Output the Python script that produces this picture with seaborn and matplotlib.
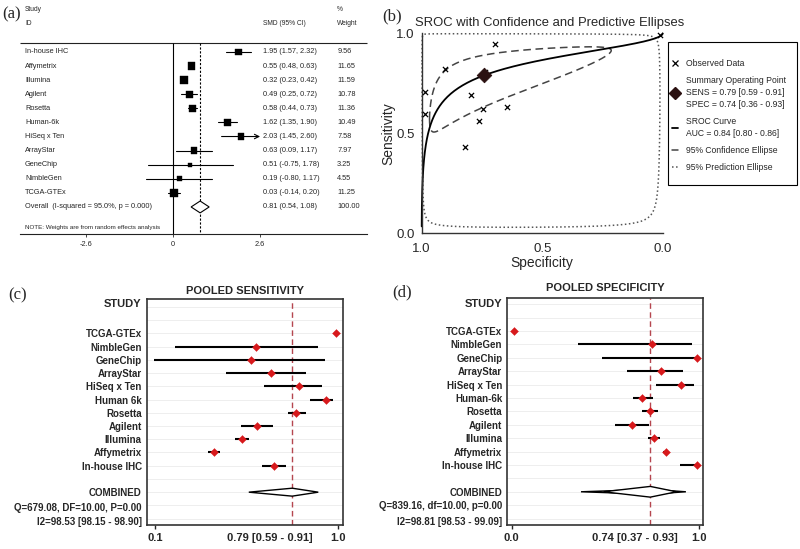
import numpy as np
import pandas as pd
import seaborn as sns
import matplotlib.pyplot as plt
from matplotlib.lines import Line2D
from matplotlib.patches import Polygon, Rectangle

sns.set_style('white')
plt.rcParams['font.family'] = ['Liberation Sans', 'DejaVu Sans']

# ---- data ----
# (a) SMD forest plot
a_names = ['In-house IHC', 'Affymetrix', 'Illumina', 'Agilent', 'Rosetta', 'Human-6k',
           'HiSeq x Ten', 'ArrayStar', 'GeneChip', 'NimbleGen', 'TCGA-GTEx']
a_smd = [1.95, 0.55, 0.32, 0.49, 0.58, 1.62, 2.03, 0.63, 0.51, 0.19, 0.03]
a_lo = [1.57, 0.48, 0.23, 0.25, 0.44, 1.35, 1.45, 0.09, -0.75, -0.80, -0.14]
a_hi = [2.32, 0.63, 0.42, 0.72, 0.73, 1.90, 2.60, 1.17, 1.78, 1.17, 0.20]
a_weight = [9.56, 11.65, 11.59, 10.78, 11.36, 10.49, 7.58, 7.97, 3.25, 4.55, 11.25]
a_overall = [0.81, 0.54, 1.08]
a_ticks = [-2.6, 0, 2.6]

# (c)/(d) per-study sensitivity and specificity
c_names = ['TCGA-GTEx', 'NimbleGen', 'GeneChip', 'ArrayStar', 'HiSeq x Ten', 'Human 6k',
           'Rosetta', 'Agilent', 'Illumina', 'Affymetrix', 'In-house IHC']
d_names = ['TCGA-GTEx', 'NimbleGen', 'GeneChip', 'ArrayStar', 'HiSeq x Ten', 'Human-6k',
           'Rosetta', 'Agilent', 'Illumina', 'Affymetrix', 'In-house IHC']
sens = [0.99, 0.623, 0.598, 0.69, 0.822, 0.944, 0.807, 0.629, 0.559, 0.43, 0.706]
sens_lo = [0.982, 0.249, 0.152, 0.483, 0.661, 0.872, 0.769, 0.553, 0.526, 0.403, 0.649]
sens_hi = [0.997, 0.91, 0.941, 0.852, 0.929, 0.979, 0.852, 0.702, 0.592, 0.457, 0.76]
spec = [0.012, 0.747, 0.988, 0.797, 0.904, 0.697, 0.738, 0.644, 0.761, 0.822, 0.988]
spec_lo = [0.003, 0.356, 0.48, 0.614, 0.769, 0.649, 0.697, 0.551, 0.729, 0.81, 0.898]
spec_hi = [0.03, 0.961, 0.995, 0.916, 0.973, 0.756, 0.78, 0.733, 0.79, 0.833, 0.995]
pooled_sens = [0.79, 0.59, 0.91]
pooled_spec = [0.74, 0.37, 0.93]

# (b) SROC model (logit scale)
sroc_alpha, sroc_beta = 1.87, 0.52
conf_ell = dict(sx=2.35, sy=1.3, rho=-0.8)
pred_ell = dict(sx=5.5, sy=4.8, rho=0.1)

W, H = 800, 549


def box(l, t, r, b):
    return [l / W, 1 - b / H, (r - l) / W, (b - t) / H]


def logit(p):
    return np.log(p / (1 - p))


def expit(z):
    return 1 / (1 + np.exp(-z))


fig = plt.figure(figsize=(8, 5.49), dpi=100)

# ================= (a) =================
ax = fig.add_axes(box(0, 0, 380, 255))
unit = 33.5
ax.set_xlim(-173 / unit, 207 / unit)
ax.set_ylim(14.41, -3.69)
rows = np.arange(len(a_names))
x_name, x_ci, x_w = -4.42, 2.69, 4.90
x_left, x_right = -4.57, 5.79
y_top, y_bot = -0.66, 12.94
clip = a_ticks[-1]

for r, lo, hi in zip(rows, a_lo, a_hi):
    if hi >= clip:
        ax.annotate('', xy=(clip, r), xytext=(lo, r),
                    arrowprops=dict(arrowstyle='->', lw=0.8, color='k',
                                    shrinkA=0, shrinkB=0, mutation_scale=8))
    else:
        ax.plot([lo, hi], [r, r], color='k', lw=0.8)

df_a = pd.DataFrame({'smd': a_smd, 'row': rows, 'weight': a_weight})
wmin, wmax = min(a_weight), max(a_weight)
sns.scatterplot(data=df_a, x='smd', y='row', size='weight', sizes=(2.6 * wmin, 2.6 * wmax),
                size_norm=(wmin, wmax), marker='s', color='black', edgecolor='black',
                legend=False, ax=ax, zorder=3)

ov, ov_lo, ov_hi = a_overall
r_ov = len(a_names)
ax.add_patch(Polygon([(ov_lo, r_ov), (ov, r_ov - 0.42), (ov_hi, r_ov), (ov, r_ov + 0.42)],
                     closed=True, facecolor='white', edgecolor='black', lw=0.8, zorder=3))

ax.hlines(y_top, x_left, x_right, color='#222222', lw=0.8)
ax.vlines(0, y_top, y_bot, color='black', lw=0.8)
ax.vlines(ov, y_top, y_bot, color='black', lw=0.8, linestyles=(0, (2, 1.5)))

fs = 5.3
for r, n, m, lo, hi, w in zip(rows, a_names, a_smd, a_lo, a_hi, a_weight):
    ax.text(x_name, r, n, fontsize=fs, va='center')
    ax.text(x_ci, r, f'{m:.2f} ({lo:.2f}, {hi:.2f})', fontsize=fs, va='center')
    ax.text(x_w, r, f'{w:.2f}', fontsize=fs, va='center')
ax.text(x_name, r_ov, 'Overall  (I-squared = 95.0%, p = 0.000)', fontsize=fs, va='center')
ax.text(x_ci, r_ov, f'{ov:.2f} ({ov_lo:.2f}, {ov_hi:.2f})', fontsize=fs, va='center')
ax.text(x_w, r_ov, '100.00', fontsize=fs, va='center')
ax.text(x_name, 12.47, 'NOTE: Weights are from random effects analysis', fontsize=4.5, va='center')

hs = 4.8
ax.text(x_name, -3, 'Study', fontsize=hs, va='center')
ax.text(x_name, -2, 'ID', fontsize=hs, va='center')
ax.text(x_ci, -2, 'SMD (95% CI)', fontsize=hs, va='center')
ax.text(x_w, -3, '%', fontsize=hs, va='center')
ax.text(x_w, -2, 'Weight', fontsize=hs, va='center')

for s in ['top', 'right', 'left']:
    ax.spines[s].set_visible(False)
ax.spines['bottom'].set_position(('data', y_bot))
ax.spines['bottom'].set_bounds(x_left, x_right)
ax.spines['bottom'].set_linewidth(0.8)
ax.spines['bottom'].set_color('#222222')
ax.set_xticks(a_ticks, ['-2.6', '0', '2.6'])
ax.set_yticks([])
ax.tick_params(axis='x', bottom=True, length=2, width=0.6, pad=3, labelsize=5.3)
ax.set_xlabel('')
ax.set_ylabel('')

# ================= (b) =================
axb = fig.add_axes(box(421.7, 33.3, 662.7, 233.3))
axb.set_xlim(1, 0)
axb.set_ylim(0, 1)

t = np.linspace(-10, 10, 600)
df_sroc = pd.DataFrame({'spec': 1 - expit(t), 'sens': expit(sroc_alpha + sroc_beta * t)})


def ellipse(sx, sy, rho):
    th = np.linspace(0, 2 * np.pi, 800)
    x = logit(pooled_spec[0]) + sx * np.cos(th)
    y = logit(pooled_sens[0]) + sy * (rho * np.cos(th) + np.sqrt(1 - rho ** 2) * np.sin(th))
    return pd.DataFrame({'spec': expit(x), 'sens': expit(y)})


df_conf = ellipse(**conf_ell)
df_pred = ellipse(**pred_ell)
sns.lineplot(data=df_pred, x='spec', y='sens', sort=False, estimator=None, ax=axb,
             color='#555555', lw=1.1, ls=':', clip_on=False)
sns.lineplot(data=df_conf, x='spec', y='sens', sort=False, estimator=None, ax=axb,
             color='#444444', lw=1.1, dashes=(5, 3), clip_on=False)
sns.lineplot(data=df_sroc, x='spec', y='sens', sort=False, estimator=None, ax=axb,
             color='black', lw=1.3, clip_on=False)
sns.scatterplot(x=spec, y=sens, marker='x', color='black', s=14, linewidth=0.9, ax=axb,
                zorder=4, clip_on=False)
sns.scatterplot(x=[pooled_spec[0]], y=[pooled_sens[0]], marker='D', color='#2b1111', s=55,
                edgecolor='#2b1111', ax=axb, zorder=5)

sns.despine(ax=axb)
for s in ['left', 'bottom']:
    axb.spines[s].set_color('#333333')
    axb.spines[s].set_linewidth(1.0)
axb.set_xticks([1, 0.5, 0], ['1.0', '0.5', '0.0'])
axb.set_yticks([0, 0.5, 1], ['0.0', '0.5', '1.0'])
axb.tick_params(length=3, width=0.9, color='#333333', labelsize=9.5)
axb.tick_params(axis='x', pad=4)
axb.tick_params(axis='y', pad=2)
axb.set_xlabel('Specificity', fontsize=10, labelpad=0.5)
axb.set_ylabel('Sensitivity', fontsize=10, labelpad=1)
fig.text(549.5 / W, 1 - 23 / H, 'SROC with Confidence and Predictive Ellipses',
         fontsize=9.4, ha='center', va='center')

fig.patches.append(Rectangle((668 / W, 1 - 185 / H), 129 / W, 143 / H, transform=fig.transFigure,
                             facecolor='white', edgecolor='black', lw=0.8))
handles = [Line2D([], [], marker='x', ls='none', color='black', ms=4, mew=0.9),
           Line2D([], [], marker='D', ls='none', color='#2b1111', ms=6),
           Line2D([], [], color='black', lw=1.3),
           Line2D([], [], color='#444444', lw=1.1, ls='-'),
           Line2D([], [], color='#555555', lw=1.1, ls=':')]
labels = ['Observed Data',
          'Summary Operating Point\nSENS = 0.79 [0.59 - 0.91]\nSPEC = 0.74 [0.36 - 0.93]',
          'SROC Curve\nAUC = 0.84 [0.80 - 0.86]',
          '95% Confidence Ellipse', '95% Prediction Ellipse']
leg = fig.legend(handles, labels, loc='upper left', bbox_to_anchor=(666 / W, 1 - 53 / H),
                 frameon=False, fontsize=6.2, handlelength=0.7, handletextpad=0.9,
                 labelspacing=0.95, borderpad=0.2)
for tx in leg.get_texts():
    tx.set_linespacing(1.4)


# ================= (c) and (d) =================
def pooled_panel(rect, names, est, lo, hi, pooled, title, qtxt, i2txt, xlim, ticks, ticklabels,
                 ylim, study_row, stat_rows, diamonds, title_pad):
    axp = fig.add_axes(box(*rect))
    axp.set_xlim(*xlim)
    axp.set_ylim(*ylim)
    r = np.arange(len(names))
    axp.hlines(np.arange(-2, 15), *xlim, color='#eeeeee', lw=0.7, zorder=0)
    axp.axvline(pooled[0], color='#b5464f', ls=(0, (4, 2.5)), lw=1.0, zorder=1)
    axp.hlines(r, lo, hi, color='black', lw=1.5, zorder=2)
    sns.scatterplot(x=est, y=r, marker='D', color='#d7191c', edgecolor='#d7191c', s=16,
                    ax=axp, zorder=3)
    for dlo, dhi, half in diamonds:
        axp.add_patch(Polygon([(dlo, 12), (pooled[0], 12 - half), (dhi, 12), (pooled[0], 12 + half)],
                              closed=True, facecolor='white', edgecolor='black', lw=1.0, zorder=3))
    yt = list(r) + [12, stat_rows[0], stat_rows[1], study_row]
    yl = list(names) + ['COMBINED', qtxt, i2txt, 'STUDY']
    axp.set_yticks(yt, yl)
    for lab in axp.get_yticklabels():
        lab.set_fontweight('bold')
        lab.set_fontsize(7)
    axp.get_yticklabels()[-1].set_fontsize(8)
    axp.tick_params(axis='y', length=0, pad=3.6)
    axp.set_xticks(ticks, ticklabels)
    for lab in axp.get_xticklabels():
        lab.set_fontweight('bold')
    axp.tick_params(axis='x', bottom=True, length=3, width=1, pad=3, labelsize=8)
    axp.xaxis.get_major_ticks()[1].tick1line.set_visible(False)
    for s in axp.spines.values():
        s.set_visible(True)
        s.set_color('#333333')
        s.set_linewidth(1.2)
    axp.set_title(title, fontsize=8, fontweight='bold', pad=title_pad)
    return axp


pooled_panel((146.7, 299.3, 343.3, 525), c_names, sens, sens_lo, sens_hi, pooled_sens,
             'POOLED SENSITIVITY', 'Q=679.08, DF=10.00, P=0.00', 'I2=98.53 [98.15 - 98.90]',
             (0.1195, 1.0254), [0.157, 0.687, 1.0], ['0.1', '0.79 [0.59 - 0.91]', '1.0'],
             (14.48, -2.57), -2.31, (13.1, 14.15), [(0.59, 0.91, 0.3)], 4)
pooled_panel((507.3, 298.3, 703.3, 525), d_names, spec, spec_lo, spec_hi, pooled_spec,
             'POOLED SPECIFICITY', 'Q=839.16, df=10.00, p=0.00', 'I2=98.81 [98.53 - 99.09]',
             (-0.0235, 1.023), [0.0, 0.658, 1.0], ['0.0', '0.74 [0.37 - 0.93]', '1.0'],
             (14.48, -2.44), -2.07, (12.99, 14.2),
             [(0.37, 0.93, 0.18), (0.49, 0.88, 0.4)], 5)

# panel letters
for lab, x, y in [('(a)', 2, 14), ('(b)', 382, 16), ('(c)', 8, 295), ('(d)', 392, 292)]:
    fig.text(x / W, 1 - y / H, lab, fontsize=12, family='Liberation Serif', ha='left', va='center')

fig.savefig('out.png', dpi=100)
